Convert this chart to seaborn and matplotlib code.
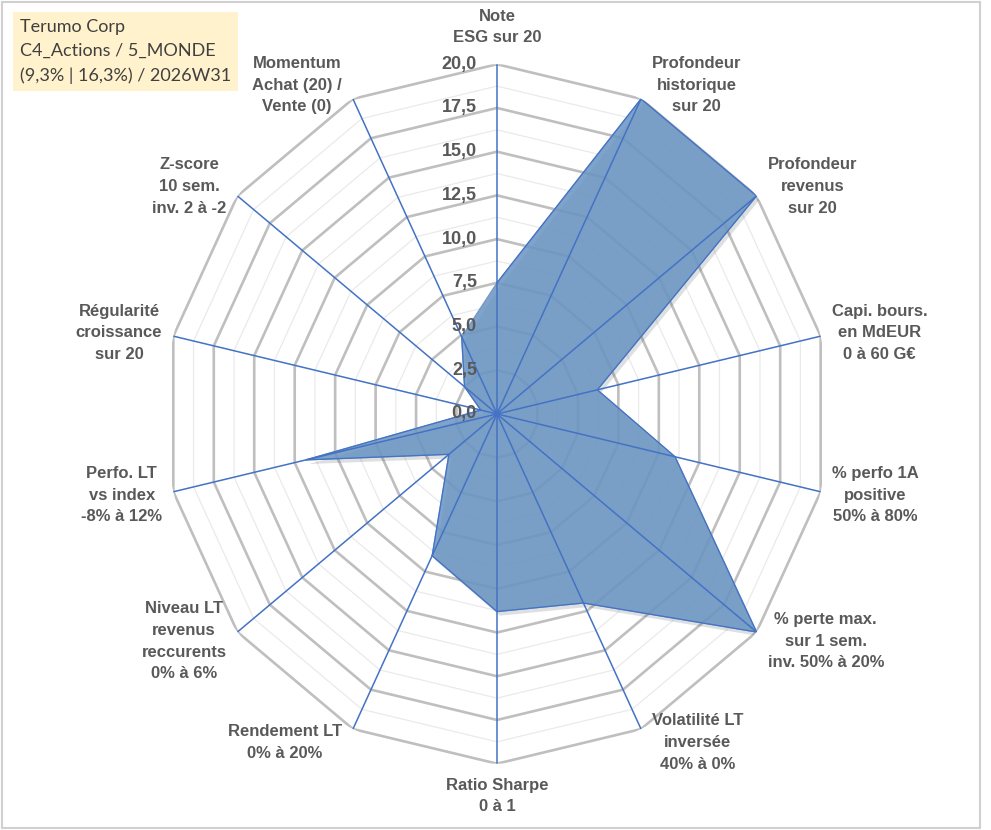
import matplotlib
matplotlib.use("Agg")
import matplotlib.pyplot as plt
import matplotlib.patheffects as pe
from matplotlib.patches import Rectangle
import seaborn as sns
import numpy as np

# Données du radar (valeurs sur 20)
categories = [
    "Note\nESG sur 20",
    "Profondeur\nhistorique\nsur 20",
    "Profondeur\nrevenus\nsur 20",
    "Capi. bours.\nen MdEUR\n0 à 60 G€",
    "% perfo 1A\npositive\n50% à 80%",
    "% perte max.\nsur 1 sem.\ninv. 50% à 20%",
    "Volatilité LT\ninversée\n40% à 0%",
    "Ratio Sharpe\n0 à 1",
    "Rendement LT\n0% à 20%",
    "Niveau LT\nrevenus\nreccurents\n0% à 6%",
    "Perfo. LT\nvs index\n-8% à 12%",
    "Régularité\ncroissance\nsur 20",
    "Z-score\n10 sem.\ninv. 2 à -2",
    "Momentum\nAchat (20) /\nVente (0)",
]
values = [7.5, 20.0, 20.0, 6.2, 11.0, 20.0, 12.0, 11.3, 9.0, 3.7, 11.8, 1.0, 2.5, 4.9]
major_ticks = [0, 2.5, 5, 7.5, 10, 12.5, 15, 17.5, 20]
tick_labels = ["0,0", "2,5", "5,0", "7,5", "10,0", "12,5", "15,0", "17,5", "20,0"]
minor_ticks = [1.25, 3.75, 6.25, 8.75, 11.25, 13.75, 16.25, 18.75]
title_lines = ["Terumo Corp", "C4_Actions / 5_MONDE", "(9,3% | 16,3%) / 2026W31"]

sns.set_theme(style="white")
plt.rcParams["font.family"] = ["Liberation Sans", "DejaVu Sans"]

n = len(categories)
angles = np.linspace(0, 2 * np.pi, n, endpoint=False)
ang_closed = np.append(angles, angles[0])
val_closed = np.append(values, values[0])

fig = plt.figure(figsize=(9.91, 8.30), dpi=100)
ax = fig.add_axes([0.1665, 0.0799, 0.670, 0.8427], projection="polar")
ax.set_aspect("auto")
ax.set_theta_offset(np.pi / 2)
ax.set_theta_direction(-1)
ax.set_ylim(0, 20)
ax.grid(False)
ax.set_xticks([])
ax.set_yticks([])
ax.spines["polar"].set_visible(False)
ax.patch.set_alpha(0)

grey = "#BFBFBF"
blue = "#4472C4"
txt = "#595959"

# grille polygonale
for r in minor_ticks:
    ax.plot(ang_closed, [r] * (n + 1), color="#EAEAEA", lw=0.9, zorder=1)
for r in major_ticks[1:]:
    ax.plot(ang_closed, [r] * (n + 1), color=grey, lw=1.9, zorder=2)

# série
ax.fill(ang_closed, val_closed, color="#6D97C4", alpha=0.88, zorder=3,
        path_effects=[pe.SimplePatchShadow(offset=(2, -3), alpha=0.15), pe.Normal()])
sns.lineplot(x=ang_closed, y=val_closed, sort=False, ax=ax, color=blue, lw=0.9, zorder=4)

# axes radiaux
for a in angles:
    ax.plot([a, a], [0, 20], color=blue, lw=1.1, zorder=5)

# étiquettes de l'échelle
for r, lab in zip(major_ticks, tick_labels):
    ax.annotate(lab, xy=(0, r), xytext=(-20, 0), textcoords="offset pixels",
                ha="right", va="center", fontsize=13, fontweight="bold", color=txt, zorder=6)

# étiquettes des catégories
for a, lab in zip(angles, categories):
    s, c = np.sin(a), np.cos(a)
    if abs(s) < 0.1:
        if c > 0:
            off, ha, va = (0, 19), "center", "bottom"
        else:
            off, ha, va = (0, -14), "center", "top"
    else:
        off = (11 * np.sign(s), 15 * c)
        ha = "left" if s > 0 else "right"
        va = "center"
    ax.annotate(lab, xy=(a, 20), xytext=off, textcoords="offset pixels",
                ha=ha, va=va, multialignment="center", fontsize=12,
                fontweight="bold", color=txt, linespacing=1.55,
                annotation_clip=False)

# cartouche titre
fig.text(20 / 991, 1 - 19 / 830, "\n".join(title_lines), ha="left", va="top",
         fontsize=13, color="#404040", family=["Lato", "DejaVu Sans"], linespacing=1.6,
         bbox=dict(facecolor="#FFF2CC", edgecolor="none", boxstyle="square,pad=0.4"))

# cadre du graphique
fig.patches.append(Rectangle((2 / 991, 2 / 830), 978 / 991, 826 / 830, transform=fig.transFigure,
                             fill=False, edgecolor="#D0D0D0", lw=1.5))

fig.savefig("out.png", dpi=100)
